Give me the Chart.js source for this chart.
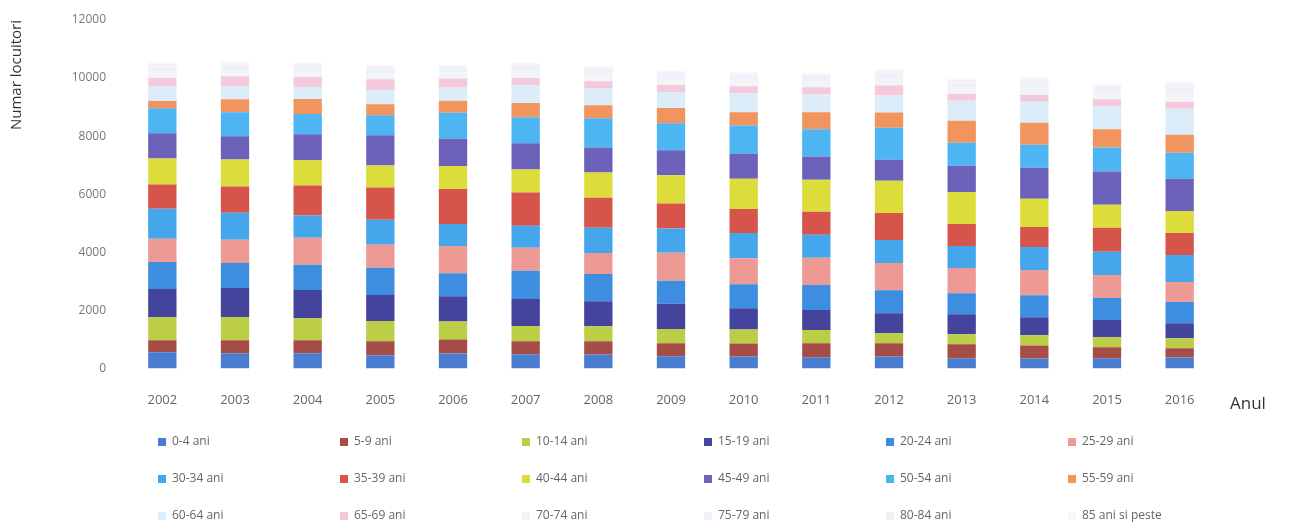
<!DOCTYPE html>
<html>
<head>
<meta charset="utf-8">
<script src="https://cdn.jsdelivr.net/npm/chart.js@4.4.1/dist/chart.umd.min.js"></script>
<style>
  html, body { margin: 0; padding: 0; background: #fff; }
</style>
</head>
<body>
<canvas id="populatie" width="1290" height="526"></canvas>
<script>
var ani = ["2002", "2003", "2004", "2005", "2006", "2007", "2008", "2009", "2010", "2011", "2012", "2013", "2014", "2015", "2016"];

var grupe = ["0-4 ani", "5-9 ani", "10-14 ani", "15-19 ani", "20-24 ani", "25-29 ani",
             "30-34 ani", "35-39 ani", "40-44 ani", "45-49 ani", "50-54 ani", "55-59 ani",
             "60-64 ani", "65-69 ani", "70-74 ani", "75-79 ani", "80-84 ani", "85 ani si peste"];

// numar locuitori pe grupe de varsta, 2002 - 2016
var g0_4   = [552, 518, 521, 452, 516, 487, 483, 417, 412, 381, 414, 346, 342, 347, 378],
    g5_9   = [414, 449, 452, 487, 483, 451, 448, 452, 447, 486, 448, 484, 451, 382, 312],
    g10_14 = [798, 802, 758, 692, 618, 522, 519, 486, 483, 452, 347, 344, 348, 343, 346],
    g15_19 = [968, 1003, 972, 897, 866, 932, 864, 868, 726, 691, 688, 693, 618, 592, 521],
    g20_24 = [934, 862, 867, 936, 793, 968, 937, 796, 828, 864, 797, 723, 762, 758, 727],
    g25_29 = [796, 793, 933, 797, 937, 794, 727, 968, 902, 933, 936, 866, 864, 796, 688],
    g30_34 = [1041, 936, 762, 863, 758, 761, 866, 829, 864, 797, 793, 762, 794, 797, 934],
    g35_39 = [829, 902, 1038, 1104, 1208, 1142, 1037, 866, 831, 794, 933, 758, 692, 828, 761],
    g40_44 = [901, 933, 866, 761, 796, 793, 864, 968, 1041, 1103, 1106, 1102, 968, 797, 758],
    g45_49 = [864, 796, 898, 1039, 933, 902, 866, 864, 866, 796, 727, 898, 1068, 1141, 1104],
    g50_54 = [866, 829, 692, 688, 898, 901, 1002, 933, 968, 936, 1103, 796, 793, 831, 898],
    g55_59 = [243, 451, 518, 382, 416, 484, 452, 518, 451, 588, 521, 758, 762, 621, 618],
    g60_64 = [521, 448, 417, 484, 451, 618, 591, 553, 654, 622, 588, 692, 726, 793, 902],
    g65_69 = [282, 343, 346, 378, 312, 243, 238, 242, 241, 238, 344, 242, 239, 243, 241],
    g70_74 = [226, 204, 201, 212, 214, 231, 224, 206, 198, 196, 236, 214, 252, 211, 298],
    g75_79 = [158, 151, 148, 146, 141, 149, 156, 148, 154, 161, 164, 158, 176, 163, 196],
    g80_84 = [96, 86, 84, 86, 81, 94, 89, 86, 86, 84, 101, 96, 108, 96, 124],
    g85    = [44, 46, 45, 43, 46, 47, 51, 44, 46, 45, 54, 51, 56, 49, 71];

var culori = ["#4a7dcf", "#a64d48", "#bccd46", "#45449c", "#3d8de0", "#ec9a93",
              "#46a6ec", "#d7544a", "#dcdd3a", "#6d62ba", "#4db5f1", "#f1945e",
              "#dcecf9", "#f4c9dc", "#f2f4f7", "#edf1f9", "#f5f0f5", "#f6f7fa"];

var valori = [g0_4, g5_9, g10_14, g15_19, g20_24, g25_29, g30_34, g35_39, g40_44,
              g45_49, g50_54, g55_59, g60_64, g65_69, g70_74, g75_79, g80_84, g85];

var font = "'Open Sans', 'Liberation Sans', sans-serif";

// legenda in grila de 6 coloane, desenata sub grafic
var legendaGrila = {
    id: "legendaGrila",
    afterDraw: function (chart) {
        var ctx = chart.ctx;
        ctx.save();
        ctx.font = "12px " + font;
        ctx.textBaseline = "middle";
        chart.data.datasets.forEach(function (ds, i) {
            var x = 158 + (i % 6) * 182,
                y = 442 + Math.floor(i / 6) * 37;
            ctx.fillStyle = ds.backgroundColor;
            ctx.fillRect(x, y - 4, 8, 8);
            ctx.fillStyle = "#666";
            ctx.fillText(ds.label, x + 14, y);
        });
        ctx.restore();
    }
};

// "Anul" la dreapta etichetelor de pe axa x
var titluAx = {
    id: "titluAx",
    afterDraw: function (chart) {
        var s = chart.scales.x, ctx = chart.ctx;
        ctx.save();
        ctx.font = "17px " + font;
        ctx.fillStyle = "#333";
        ctx.textBaseline = "middle";
        ctx.fillText("Anul", s.right + 14, s.top + 36);
        ctx.restore();
    }
};

function drawPopulatie() {
    var datasets = valori.map(function (v, i) {
        return {
            label: grupe[i],
            data: v,
            backgroundColor: culori[i],
            borderWidth: 0,
            categoryPercentage: 1,
            barPercentage: 0.39
        };
    });

    var ctx = document.getElementById("populatie");
    new Chart(ctx, {
        type: "bar",
        data: { labels: ani, datasets: datasets },
        plugins: [legendaGrila, titluAx],
        options: {
            responsive: false,
            animation: false,
            layout: { padding: { left: 8, right: 74, top: 20, bottom: 94 } },
            plugins: {
                legend: { display: false },
                tooltip: { enabled: false }
            },
            scales: {
                x: {
                    stacked: true,
                    grid: { display: false, drawTicks: false },
                    border: { display: false },
                    ticks: { color: "#666", font: { family: font, size: 13 }, padding: 24 }
                },
                y: {
                    stacked: true,
                    min: 0,
                    max: 12000,
                    grid: { display: false, drawTicks: false },
                    border: { display: false },
                    afterFit: function (s) {
                        s.width = 118;
                        s.paddingTop = 8;
                        s.paddingBottom = 8;
                    },
                    ticks: {
                        stepSize: 2000,
                        color: "#777",
                        font: { family: font, size: 12 },
                        padding: 20,
                        callback: function (v) { return String(v); }
                    },
                    title: {
                        display: true,
                        text: "Numar locuitori",
                        align: "end",
                        color: "#333",
                        font: { family: font, size: 15 },
                        padding: { top: 0, bottom: 0 }
                    }
                }
            }
        }
    });
}

window.onload = function () {
    drawPopulatie();
};
</script>
</body>
</html>
